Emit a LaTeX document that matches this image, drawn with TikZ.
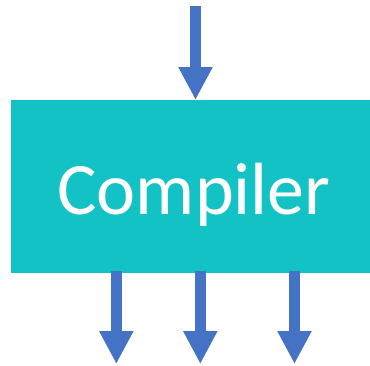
\documentclass[tikz,border=0pt]{standalone}
\usepackage{fontspec}
\setmainfont{Carlito}
\usetikzlibrary{arrows.meta}
\definecolor{teal1}{HTML}{12C2C4}
\definecolor{blue1}{HTML}{4472C4}
\tikzset{
  flow/.style={draw=blue1, line width=11pt, -{Triangle[width=32pt,length=33pt]}},
  box/.style={fill=teal1, draw=none, minimum width=359pt, minimum height=173pt, inner sep=0pt, anchor=north west}
}
\begin{document}
\begin{tikzpicture}[x=1pt,y=-1pt]
\useasboundingbox (0,0) rectangle (370,365);
\node[box] (comp) at (11,100) {};
\node[anchor=base, text=white, font=\fontsize{74}{80}\selectfont, inner sep=0pt] (lbl) at (194,214) {Compiler};
\coordinate (in0) at (195.5,6);
\coordinate (in1) at (195.5,100);
\coordinate (o1s) at (116.3,271);
\coordinate (o1e) at (116.3,364);
\coordinate (o2s) at (200.3,271);
\coordinate (o2e) at (200.3,364);
\coordinate (o3s) at (294.5,271);
\coordinate (o3e) at (294.5,364);
\draw[flow] (in0) -- (in1);
\draw[flow] (o1s) -- (o1e);
\draw[flow] (o2s) -- (o2e);
\draw[flow] (o3s) -- (o3e);
\end{tikzpicture}
\end{document}
